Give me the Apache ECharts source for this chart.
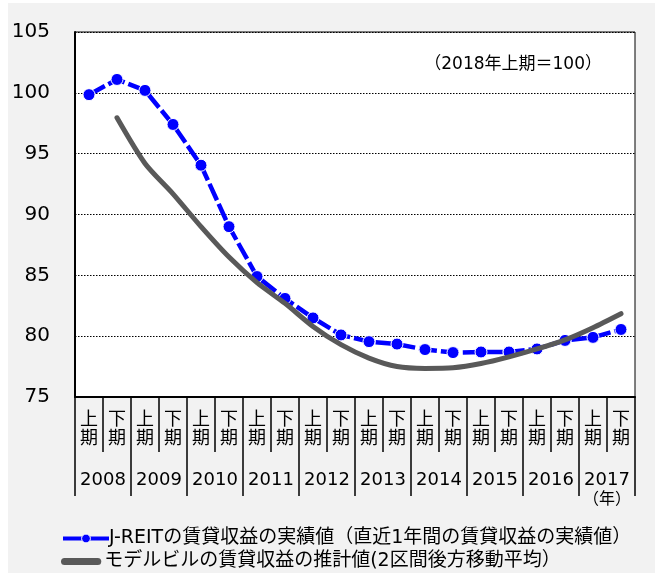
<!DOCTYPE html>
<html>
<head>
<meta charset="utf-8">
<script src="https://cdn.jsdelivr.net/npm/echarts@6/dist/echarts.min.js"></script>
<style>
html, body { margin: 0; padding: 0; background: #ffffff; }
#chart { width: 660px; height: 573px; }
</style>
</head>
<body>
<div id="chart"></div>
<script>
// Fiscal years and half-year periods on the horizontal axis
const years = ['2008', '2009', '2010', '2011', '2012', '2013', '2014', '2015', '2016', '2017'];
const halves = ['上期', '下期'];

// J-REIT rental income, actual (trailing 12 months), index 2018 H1 = 100
const jreitActual = [99.85, 101.1, 100.2, 97.4, 94.05, 89.0, 84.9, 83.1, 81.5, 80.1,
                     79.55, 79.35, 78.9, 78.65, 78.7, 78.7, 78.95, 79.65, 79.9, 80.55];

// Model building rental income, estimate (2-period trailing moving average)
const modelEstimate = [null, 97.95, 94.2, 91.7, 89.0, 86.5, 84.4, 82.7, 80.8, 79.3,
                       78.2, 77.5, 77.35, 77.4, 77.75, 78.3, 78.95, 79.7, 80.7, 81.85];

// Value axis ticks
const yMin = 75, yMax = 105, yStep = 5;

const seriesNames = [
  'J-REITの賃貸収益の実績値（直近1年間の賃貸収益の実績値）',
  'モデルビルの賃貸収益の推計値(2区間後方移動平均）'
];
const baseNote = '（2018年上期＝100）';
const yearUnit = '（年）';

const periods = years.flatMap(y => halves.map(h => y + h));

const FONT = 'Verdana, "DejaVu Sans", "Noto Sans CJK JP", sans-serif';
const chart = echarts.init(document.getElementById('chart'));

const legendText = { fontSize: 19, fontFamily: FONT, color: '#000', padding: [0, 0, 0, -5] };
// thick bar with round ends for the moving-average legend entry
const capsuleIcon = 'path://M4,0 L42,0 A4,4 0 0 1 42,8 L4,8 A4,4 0 0 1 4,0 Z';

chart.setOption({
  animation: false,
  textStyle: { fontFamily: FONT, color: '#000' },
  graphic: [
    {
      type: 'rect', z: -10, silent: true,
      shape: { x: 8, y: 3, width: 647, height: 570 },
      style: { fill: '#f2f2f2' }
    },
    {
      type: 'text', z: 10,
      x: 602, y: 65,
      style: {
        text: baseNote, fontSize: 17, fontFamily: FONT, fill: '#000',
        align: 'right', verticalAlign: 'middle'
      }
    }
  ],
  grid: {
    left: 75, right: 25, top: 32, bottom: 176,
    show: true, backgroundColor: '#ffffff', borderColor: '#000', borderWidth: 1
  },
  legend: [
    {
      left: 56, top: 524, itemWidth: 46, itemHeight: 11,
      textStyle: legendText,
      lineStyle: { width: 4, type: 'solid' },
      itemStyle: { borderColor: '#ffffff', borderWidth: 1 },
      data: [seriesNames[0]]
    },
    {
      left: 56, top: 547, itemWidth: 46, itemHeight: 7,
      textStyle: legendText,
      data: [{ name: seriesNames[1], icon: capsuleIcon }]
    }
  ],
  xAxis: [
    {
      type: 'category', data: periods, boundaryGap: true,
      axisLine: { show: true, lineStyle: { color: '#000', width: 2 } },
      axisTick: { show: true, interval: 0, length: 55, lineStyle: { color: '#000', width: 1.5 } },
      axisLabel: {
        interval: 0, margin: 14, fontSize: 18, lineHeight: 19, color: '#000', fontFamily: FONT,
        formatter: v => v.slice(4).split('').join('\n')
      },
      splitLine: { show: false }
    },
    {
      type: 'category', data: years, boundaryGap: true, position: 'bottom',
      axisLine: { show: false },
      axisTick: { show: true, interval: 0, length: 99, lineStyle: { color: '#000', width: 1.5 } },
      axisLabel: {
        interval: 0, margin: 73, fontSize: 18, lineHeight: 20, color: '#000', fontFamily: FONT,
        formatter: v => v === years[years.length - 1] ? v + '\n{u|' + yearUnit + '}' : v,
        rich: { u: { fontSize: 16, lineHeight: 19, fontFamily: FONT, color: '#000' } }
      },
      splitLine: { show: false }
    }
  ],
  yAxis: {
    type: 'value', min: yMin, max: yMax, interval: yStep,
    axisLine: { show: true, lineStyle: { color: '#000', width: 2 } },
    axisTick: { show: false },
    axisLabel: { fontSize: 20, margin: 25, color: '#000', fontFamily: FONT },
    splitLine: { show: true, lineStyle: { color: '#000', width: 1, type: [1.5, 1.5] } }
  },
  series: [
    {
      name: seriesNames[1], type: 'line', xAxisIndex: 0, data: modelEstimate,
      showSymbol: false, symbol: 'none', smooth: 0.25, connectNulls: false,
      lineStyle: { color: '#595959', width: 5, cap: 'round', join: 'round' },
      itemStyle: { color: '#595959' },
      z: 3
    },
    {
      name: seriesNames[0], type: 'line', xAxisIndex: 0, data: jreitActual,
      symbol: 'circle', symbolSize: 12,
      lineStyle: { color: '#0000ff', width: 4.5, type: [18, 4] },
      itemStyle: { color: '#0000ff', borderColor: '#ffffff', borderWidth: 1 },
      z: 2
    }
  ]
});
</script>
</body>
</html>
